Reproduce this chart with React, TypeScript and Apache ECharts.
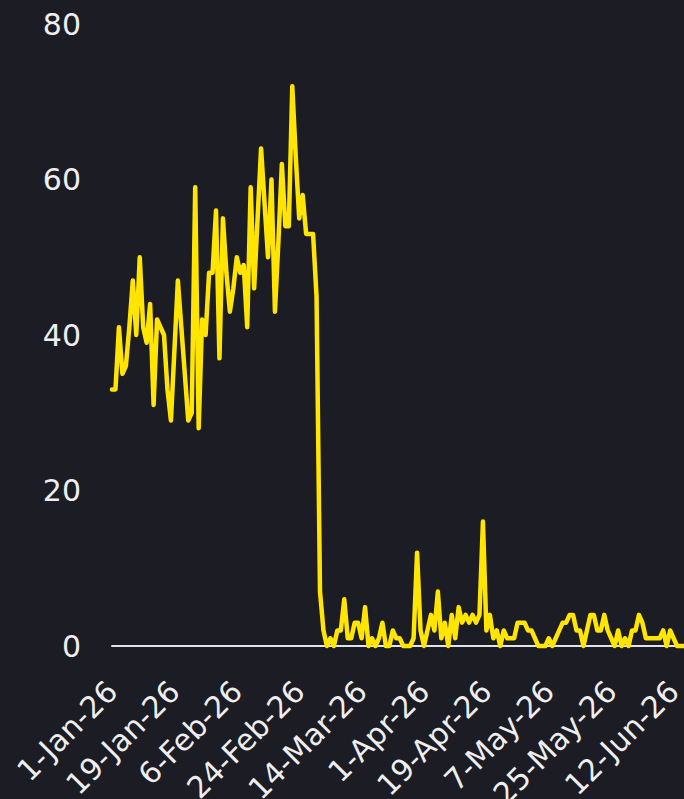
import React, { useEffect, useRef } from "react";
import * as echarts from "echarts";

const startYear = 2026;
const monthNames = ["Jan", "Feb", "Mar", "Apr", "May", "Jun", "Jul", "Aug", "Sep", "Oct", "Nov", "Dec"];

// daily values from 1-Jan-26 to 15-Jun-26
const values: number[] = [
  33, 33, 41, 35, 36, 41, 47, 40, 50, 41,
  39, 44, 31, 42, 41, 40, 33, 29, 38, 47,
  41, 35, 29, 30, 59, 28, 42, 40, 48, 48,
  56, 37, 55, 48, 43, 46, 50, 48, 49, 41,
  59, 46, 55, 64, 57, 50, 60, 43, 52, 62,
  54, 54, 72, 63, 55, 58, 53, 53, 53, 45,
  7, 2, 0, 1, 0, 2, 2, 6, 1, 1,
  3, 3, 1, 5, 0, 1, 0, 1, 3, 0,
  0, 2, 1, 1, 0, 0, 0, 1, 12, 2,
  0, 2, 4, 2, 7, 1, 3, 0, 4, 1,
  5, 3, 4, 3, 4, 3, 4, 16, 2, 4,
  1, 2, 0, 2, 1, 1, 1, 3, 3, 3,
  2, 2, 1, 0, 0, 0, 1, 0, 1, 2,
  3, 3, 4, 4, 2, 2, 0, 2, 4, 4,
  2, 2, 4, 2, 1, 0, 2, 0, 1, 0,
  2, 2, 4, 3, 1, 1, 1, 1, 1, 2,
  0, 2, 1, 0, 0, 0,
];

const yTicks = [0, 20, 40, 60, 80];

function buildDates(n: number): string[] {
  const out: string[] = [];
  for (let i = 0; i < n; i++) {
    const d = new Date(Date.UTC(startYear, 0, 1 + i));
    out.push(`${d.getUTCDate()}-${monthNames[d.getUTCMonth()]}-${String(d.getUTCFullYear()).slice(2)}`);
  }
  return out;
}

const categories = buildDates(values.length);

export default function App() {
  const ref = useRef<HTMLDivElement>(null);
  useEffect(() => {
    document.body.style.margin = "0";
    document.body.style.background = "#1c1c24";
    const chart = echarts.init(ref.current!, undefined, { renderer: "svg" });
    const font = "DejaVu Sans";
    chart.setOption({
      animation: false,
      backgroundColor: "#1c1c24",
      grid: {
        left: 112,
        right: 0,
        top: 24,
        bottom: 153,
        containLabel: false,
        outerBoundsMode: "none",
      },
      xAxis: {
        type: "category",
        data: categories,
        boundaryGap: false,
        axisLine: { show: true, lineStyle: { color: "#e2e2e8", width: 2 } },
        axisTick: { show: false },
        splitLine: { show: false },
        axisLabel: {
          interval: 17,
          rotate: 45,
          margin: 40,
          padding: [14, 0, 0, 0],
          color: "#eeeeee",
          fontSize: 30,
          fontFamily: font,
        },
      },
      yAxis: {
        type: "value",
        min: yTicks[0],
        max: yTicks[yTicks.length - 1],
        interval: 20,
        axisLine: { show: false },
        axisTick: { show: false },
        splitLine: { show: false },
        axisLabel: {
          margin: 31,
          color: "#eeeeee",
          fontSize: 30,
          fontFamily: font,
        },
      },
      series: [
        {
          type: "line",
          data: values,
          showSymbol: false,
          symbol: "none",
          lineStyle: { color: "#ffe500", width: 4.5, cap: "round", join: "round" },
          clip: false,
        },
      ],
    });
    return () => chart.dispose();
  }, []);
  return (
    <div
      ref={ref}
      style={{ position: "fixed", left: 0, top: 0, width: 684, height: 799 }}
    />
  );
}
